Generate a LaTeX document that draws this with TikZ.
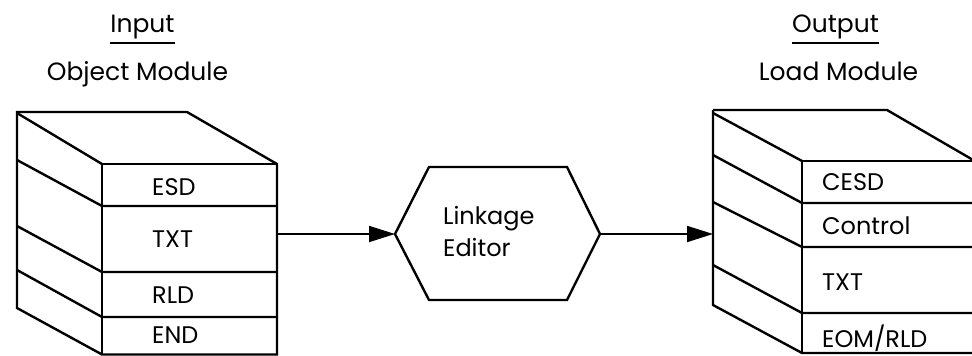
\documentclass[tikz,border=0pt]{standalone}
\usepackage{fontspec}
\setmainfont{Poppins}
\usetikzlibrary{arrows.meta}
\tikzset{
  edge/.style={line width=2.4pt, line join=miter},
  flow/.style={line width=1.8pt, -{Triangle[length=26pt,width=16pt]}},
  lbl/.style={anchor=base west, inner sep=0pt, font=\fontsize{24}{28}\selectfont},
  ttl/.style={anchor=base, inner sep=0pt, font=\fontsize{25}{30}\selectfont},
  uline/.style={line width=2.2pt}
}
\begin{document}
\begin{tikzpicture}[x=1pt, y=-1pt]
\useasboundingbox (0,0) rectangle (972,356);
\clip (0,0) rectangle (972,356);

% headings
\node[ttl] (inhd) at (142.5,32) {Input};
\node[ttl] (objhd) at (137.5,80) {Object Module};
\node[ttl] (outhd) at (835.5,32) {Output};
\node[ttl] (ldhd) at (838.5,80) {Load Module};
\draw[uline] ([yshift=-11pt]inhd.base west) -- ([yshift=-11pt]inhd.base east);
\draw[uline] ([yshift=-11pt]outhd.base west) -- ([yshift=-11pt]outhd.base east);

% object module: stacked record block
\draw[edge] (17,112) -- (187,112) -- (277,164) -- (277,354.5) -- (102,354.5) -- (17,308) -- cycle;
\draw[edge] (102,164) -- (277,164);
\draw[edge] (102,164) -- (102,354.5);
\draw[edge] (17,113) -- (102,164);
\draw[edge] (17,160) -- (102,206) -- (277,206);
\draw[edge] (17,226) -- (102,272) -- (277,272);
\draw[edge] (17,270) -- (102,317) -- (277,317);
\node[lbl] (esd) at (152,195) {ESD};
\node[lbl] (txta) at (152,247) {TXT};
\node[lbl] (rld) at (152,303) {RLD};
\node[lbl] (end) at (152,343) {END};
\coordinate (objout) at (277,234);

% linkage editor hexagon
\coordinate (lkw) at (395,234);
\coordinate (lke) at (600,234);
\draw[edge] (lkw) -- (429,167) -- (567,167) -- (lke) -- (567,300) -- (429,300) -- cycle;
\node[lbl] (lk1) at (443,224) {Linkage};
\node[lbl] (lk2) at (443,256) {Editor};

% load module: stacked record block
\draw[edge] (713,110) -- (887,110) -- (974,160.5);
\draw[edge] (802,161) -- (975,161);
\draw[edge] (974,160) -- (974,353);
\draw[edge] (713,110) -- (713,305) -- (802,353) -- (975,353);
\draw[edge] (802,161) -- (802,353);
\draw[edge] (713,113) -- (802,161);
\draw[edge] (713,155) -- (802,203) -- (975,203);
\draw[edge] (713,202) -- (802,247) -- (975,247);
\draw[edge] (713,265) -- (802,313) -- (975,313);
\node[lbl] (cesd) at (822,190) {CESD};
\node[lbl] (ctl) at (822,234) {Control};
\node[lbl] (txtb) at (822,290) {TXT};
\node[lbl] (eom) at (822,347) {EOM/RLD};
\coordinate (ldin) at (713,234);

% flow
\draw[flow] (objout) -- (lkw);
\draw[flow] (lke) -- (ldin);
\end{tikzpicture}
\end{document}
